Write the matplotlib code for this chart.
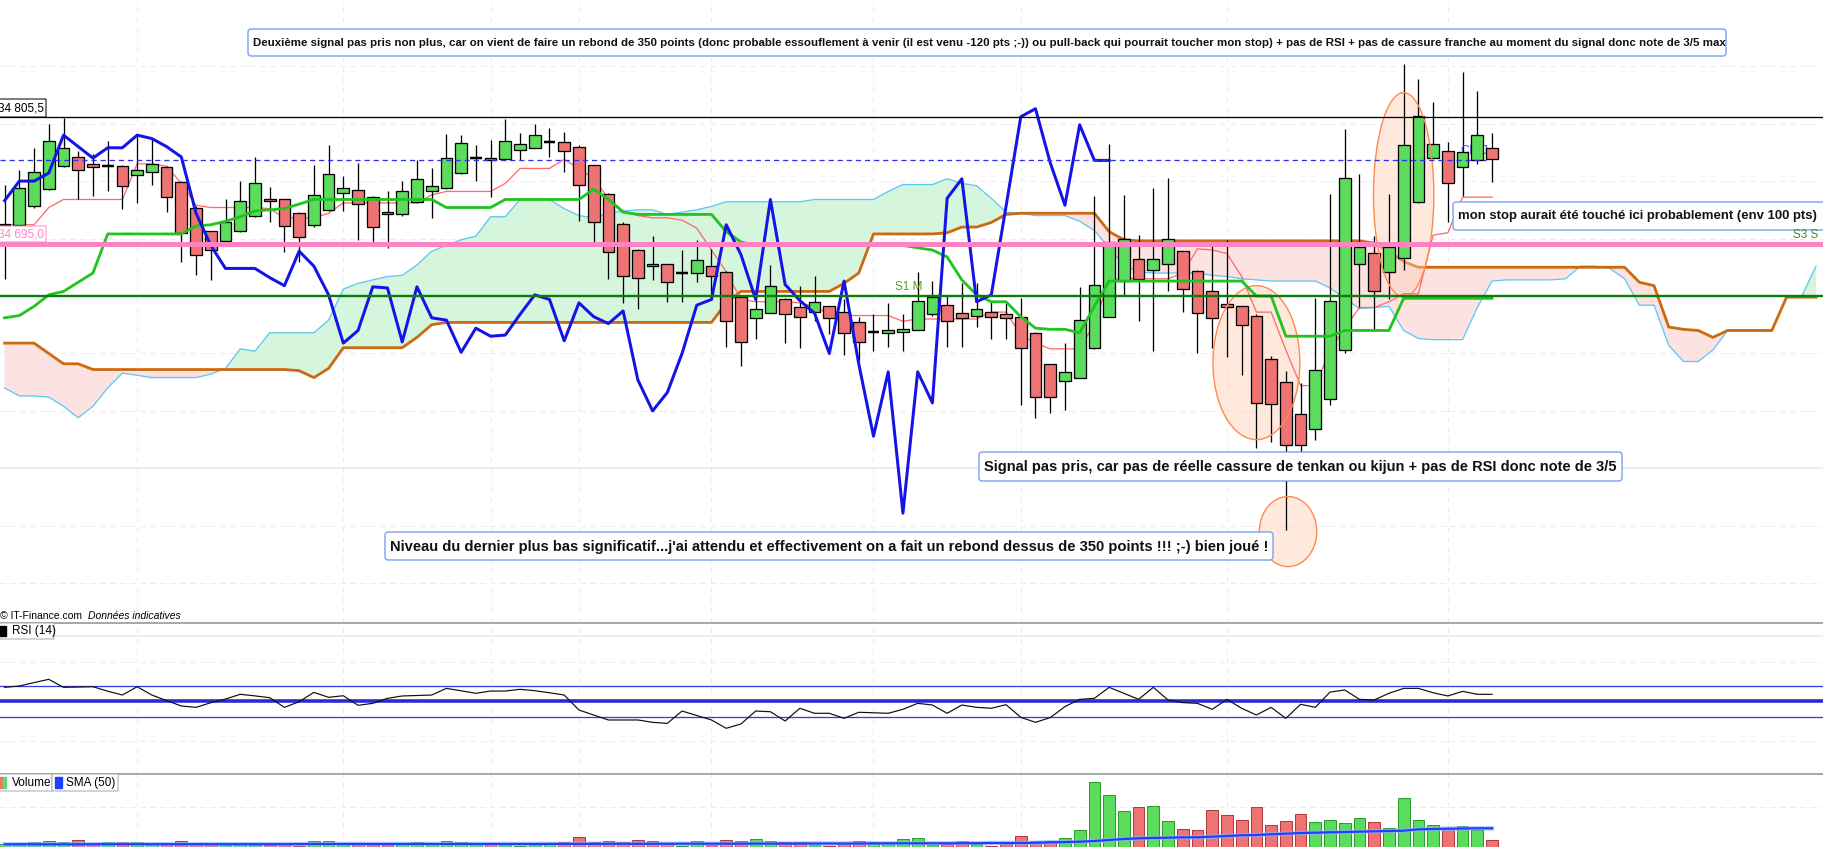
"""Graphique Ichimoku intraday (IT-Finance) avec RSI, volume et annotations."""

import matplotlib
matplotlib.use("Agg")
import matplotlib.pyplot as plt
from matplotlib.patches import Rectangle, Ellipse, FancyBboxPatch
from matplotlib.lines import Line2D
from matplotlib.transforms import IdentityTransform
import numpy as np

W, H, DPI = 1823, 847, 100
PT = 0.72  # 1 px en points à 100 dpi

# --- bougies (une par période) ---
opens = [34712, 34712, 34728, 34743, 34763, 34771, 34765, 34763, 34763, 34755,
         34758, 34762, 34749, 34727, 34707, 34698, 34707, 34720, 34734, 34734,
         34722, 34712, 34725, 34740, 34742, 34736, 34723, 34721, 34732, 34741,
         34744, 34757, 34770, 34770, 34769, 34777, 34779, 34784, 34784, 34780,
         34764, 34739, 34713, 34690, 34678, 34678, 34670, 34670, 34676, 34671,
         34649, 34631, 34635, 34647, 34640, 34636, 34641, 34636, 34627, 34619,
         34618, 34619, 34620, 34634, 34642, 34635, 34633, 34636, 34634, 34632,
         34618, 34591, 34576, 34579, 34605, 34632, 34663, 34682, 34673, 34678,
         34689, 34672, 34654, 34643, 34641, 34633, 34595, 34575, 34547, 34534,
         34560, 34603, 34678, 34687, 34671, 34683, 34732, 34770, 34776, 34762,
         34768, 34779]
highs = [34747, 34760, 34779, 34800, 34805, 34776, 34774, 34785, 34764, 34790,
         34787, 34763, 34750, 34728, 34707, 34734, 34750, 34771, 34745, 34734,
         34723, 34764, 34781, 34754, 34766, 34737, 34741, 34750, 34768, 34761,
         34791, 34790, 34781, 34786, 34804, 34792, 34800, 34796, 34793, 34781,
         34764, 34740, 34714, 34691, 34702, 34678, 34690, 34699, 34691, 34672,
         34650, 34654, 34677, 34648, 34659, 34667, 34641, 34647, 34632, 34634,
         34644, 34634, 34671, 34663, 34650, 34661, 34661, 34645, 34644, 34648,
         34619, 34591, 34609, 34658, 34737, 34782, 34738, 34703, 34744, 34753,
         34689, 34673, 34697, 34699, 34641, 34634, 34598, 34585, 34574, 34648,
         34739, 34795, 34756, 34702, 34739, 34852, 34839, 34819, 34784, 34845,
         34828, 34792]
lows = [34665, 34710, 34727, 34742, 34762, 34734, 34737, 34741, 34726, 34731,
        34747, 34723, 34680, 34668, 34664, 34697, 34706, 34719, 34714, 34688,
        34680, 34710, 34724, 34724, 34699, 34697, 34692, 34720, 34731, 34718,
        34743, 34756, 34750, 34736, 34768, 34768, 34779, 34771, 34758, 34715,
        34697, 34665, 34644, 34639, 34664, 34645, 34645, 34662, 34652, 34606,
        34589, 34613, 34635, 34609, 34605, 34628, 34617, 34599, 34594, 34602,
        34606, 34602, 34620, 34633, 34606, 34606, 34623, 34613, 34613, 34555,
        34544, 34548, 34551, 34579, 34604, 34632, 34650, 34628, 34602, 34654,
        34636, 34600, 34605, 34597, 34581, 34518, 34523, 34446, 34500, 34525,
        34555, 34600, 34640, 34621, 34647, 34673, 34731, 34770, 34714, 34737,
        34765, 34749]
closes = [34713, 34744, 34758, 34785, 34779, 34760, 34762, 34763, 34746, 34760,
          34765, 34736, 34705, 34686, 34690, 34714, 34733, 34748, 34733, 34711,
          34701, 34738, 34756, 34744, 34730, 34710, 34721, 34741, 34752, 34746,
          34770, 34783, 34770, 34768, 34785, 34782, 34790, 34784, 34776, 34747,
          34714, 34688, 34667, 34666, 34676, 34662, 34670, 34681, 34667, 34628,
          34610, 34639, 34659, 34634, 34632, 34645, 34631, 34618, 34610, 34619,
          34620, 34621, 34646, 34649, 34628, 34631, 34639, 34632, 34631, 34605,
          34562, 34562, 34584, 34629, 34660, 34697, 34700, 34665, 34682, 34700,
          34656, 34635, 34631, 34640, 34625, 34557, 34556, 34520, 34520, 34586,
          34646, 34753, 34693, 34654, 34693, 34781, 34807, 34782, 34748, 34775,
          34790, 34769]

# --- Ichimoku ---
tenkan = [34712, 34712, 34712, 34727, 34734, 34734, 34734, 34734, 34734, 34765,
          34765, 34763, 34748, 34729, 34727, 34727, 34727, 34727, 34726, 34718,
          34718, 34718, 34722, 34731, 34731, 34731, 34731, 34731, 34731, 34738,
          34741, 34741, 34741, 34741, 34748, 34761, 34761, 34761, 34769, 34761,
          34752, 34735, 34724, 34720, 34718, 34718, 34716, 34709, 34690, 34671,
          34647, 34645, 34645, 34645, 34644, 34641, 34634, 34633, 34633, 34633,
          34633, 34628, 34630, 34630, 34630, 34630, 34630, 34636, 34636, 34616,
          34609, 34604, 34604, 34604, 34626, 34664, 34665, 34665, 34665, 34665,
          34670, 34691, 34690, 34687, 34667, 34636, 34636, 34603, 34572, 34572,
          34603, 34622, 34640, 34640, 34645, 34652, 34652, 34703, 34705, 34736,
          34736, 34736]
kijun = [34631, 34633, 34641, 34651, 34654, 34662, 34670, 34704, 34704, 34704,
         34704, 34704, 34704, 34711, 34712, 34715, 34719, 34724, 34725, 34726,
         34730, 34734, 34734, 34734, 34734, 34734, 34734, 34734, 34734, 34734,
         34727, 34727, 34727, 34727, 34734, 34734, 34734, 34734, 34734, 34734,
         34743, 34734, 34723, 34721, 34721, 34721, 34721, 34721, 34721, 34706,
         34697, 34694, 34694, 34694, 34694, 34694, 34694, 34694, 34694, 34694,
         34694, 34694, 34692, 34690, 34684, 34664, 34651, 34645, 34645, 34632,
         34622, 34621, 34621, 34618, 34641, 34663, 34663, 34663, 34663, 34663,
         34663, 34663, 34663, 34663, 34663, 34650, 34650, 34615, 34615, 34615,
         34615, 34620, 34620, 34620, 34620, 34648, 34648, 34648, 34648, 34648,
         34648, 34648]
senkou_a = [34570, 34563, 34563, 34562, 34554, 34544, 34554, 34570, 34583, 34581,
            34579, 34579, 34579, 34579, 34582, 34587, 34604, 34602, 34618, 34618,
            34618, 34618, 34629, 34656, 34661, 34664, 34667, 34668, 34677, 34689,
            34694, 34699, 34702, 34719, 34719, 34734, 34734, 34734, 34726, 34720,
            34718, 34722, 34724, 34725, 34725, 34721, 34723, 34725, 34728, 34732,
            34732, 34732, 34732, 34732, 34732, 34734, 34734, 34734, 34734, 34734,
            34741, 34747, 34747, 34747, 34752, 34748, 34746, 34735, 34723, 34722,
            34720, 34720, 34720, 34715, 34707, 34692, 34677, 34671, 34670, 34670,
            34670, 34670, 34668, 34667, 34665, 34664, 34663, 34663, 34663, 34663,
            34657, 34648, 34639, 34640, 34641, 34620, 34613, 34612, 34612, 34612,
            34640, 34663, 34664, 34664, 34664, 34664, 34665, 34676, 34676, 34674,
            34665, 34642, 34642, 34607, 34593, 34593, 34603, 34620, 34620, 34620,
            34620, 34649, 34649, 34676]
senkou_b = [34609, 34609, 34609, 34600, 34591, 34591, 34586, 34586, 34586, 34586,
            34586, 34586, 34586, 34586, 34586, 34586, 34586, 34586, 34586, 34586,
            34585, 34579, 34587, 34605, 34605, 34605, 34605, 34605, 34614, 34625,
            34627, 34627, 34627, 34627, 34627, 34627, 34627, 34627, 34627, 34627,
            34627, 34627, 34627, 34627, 34627, 34627, 34627, 34627, 34627, 34644,
            34654, 34654, 34654, 34654, 34654, 34654, 34654, 34661, 34670, 34704,
            34704, 34704, 34704, 34704, 34705, 34710, 34710, 34714, 34721, 34722,
            34722, 34722, 34722, 34722, 34722, 34706, 34699, 34698, 34698, 34698,
            34698, 34698, 34698, 34698, 34698, 34698, 34698, 34698, 34698, 34698,
            34698, 34698, 34698, 34696, 34689, 34680, 34675, 34675, 34675, 34675,
            34675, 34675, 34675, 34675, 34675, 34675, 34675, 34675, 34675, 34675,
            34675, 34662, 34659, 34623, 34621, 34620, 34614, 34620, 34620, 34620,
            34620, 34649, 34649, 34649]
chikou = [34733, 34750, 34750, 34757, 34790, 34780, 34770, 34779, 34779, 34790,
          34787, 34780, 34771, 34722, 34694, 34674, 34674, 34674, 34666, 34659,
          34689, 34676, 34651, 34609, 34620, 34658, 34657, 34610, 34658, 34631,
          34629, 34601, 34622, 34615, 34616, 34634, 34651, 34647, 34611, 34644,
          34632, 34626, 34637, 34577, 34550, 34566, 34600, 34642, 34647, 34712,
          34686, 34647, 34734, 34660, 34646, 34635, 34600, 34663, 34591, 34528,
          34584, 34461, 34584, 34557, 34735, 34752, 34645, 34651, 34728, 34806,
          34813, 34766, 34729, 34799, 34768, 34768]

# --- RSI (14) ---
rsi = [67.9, 69.6, 74.0, 78.1, 67.9, 68.3, 68.7, 63.0, 58.1, 68.7,
       58.1, 51.0, 44.1, 42.4, 48.3, 53.0, 59.0, 57.0, 54.7, 42.4,
       49.6, 61.5, 55.2, 57.2, 45.0, 47.5, 53.9, 56.9, 57.5, 58.1,
       66.6, 63.5, 60.3, 63.2, 63.2, 65.4, 63.6, 61.0, 58.1, 39.0,
       32.6, 26.3, 26.3, 26.3, 23.3, 22.0, 37.7, 32.0, 26.3, 15.7,
       21.2, 37.7, 36.8, 25.0, 41.2, 34.8, 34.8, 28.4, 36.1, 35.5,
       34.8, 39.9, 47.5, 45.4, 34.8, 45.4, 42.4, 41.2, 45.8, 29.7,
       23.3, 29.3, 43.3, 52.6, 53.9, 67.9, 60.3, 52.6, 67.9, 51.8,
       48.4, 47.5, 39.9, 52.6, 41.2, 32.6, 42.4, 28.4, 46.3, 42.4,
       61.9, 64.5, 52.6, 51.8, 60.3, 66.6, 66.6, 61.0, 56.9, 62.8,
       59.0, 59.0]

# --- volume et SMA (50) ---
volume = [600, 670, 770, 900, 770, 1000, 570, 770, 770, 770,
          570, 570, 900, 670, 570, 500, 570, 500, 500, 570,
          430, 870, 870, 670, 570, 500, 500, 570, 770, 570,
          900, 770, 670, 670, 500, 430, 500, 570, 770, 1270,
          770, 900, 770, 1000, 900, 570, 430, 900, 500, 1000,
          900, 1100, 900, 770, 770, 500, 430, 570, 900, 770,
          770, 1070, 1170, 500, 570, 900, 570, 430, 570, 1400,
          900, 900, 1170, 2000, 6830, 5500, 3900, 4330, 4430, 2900,
          2070, 2000, 3970, 3470, 2970, 4270, 2470, 2900, 3570, 2770,
          3000, 2670, 3170, 2770, 2170, 5170, 3000, 2470, 2130, 2370,
          2000, 1000]
vol_sma = [570, 570, 570, 570, 570, 570, 580, 580, 580, 580,
           580, 580, 580, 580, 580, 580, 580, 580, 580, 580,
           590, 600, 600, 600, 600, 600, 600, 600, 600, 600,
           600, 600, 600, 600, 600, 600, 600, 610, 610, 610,
           610, 620, 620, 620, 620, 620, 630, 630, 630, 630,
           630, 640, 640, 640, 640, 650, 650, 650, 650, 660,
           660, 670, 670, 670, 670, 680, 680, 700, 700, 700,
           720, 770, 790, 830, 900, 1000, 1100, 1170, 1200, 1230,
           1270, 1270, 1330, 1400, 1470, 1500, 1570, 1630, 1700, 1730,
           1770, 1800, 1830, 1870, 1900, 1930, 2070, 2100, 2130, 2150,
           2170, 2170]

# niveaux horizontaux
level_high = 34805.5      # ligne noire
level_pink = 34695.0      # ligne rose épaisse
level_s1 = 34650.0        # S1 M (vert foncé)
level_close = 34768.4     # clôture (pointillés bleus)
grid_bars = [9, 23, 33, 39, 48, 59, 69, 83, 98]
grid_prices = [34850, 34800, 34750, 34700, 34650, 34600, 34550, 34450, 34400]

# ellipses d'annotation : (centre barre, centre prix, largeur barres, hauteur points)
ellipses = [(85.0, 34592, 5.9, 134), (95.0, 34738, 4.1, 178), (87.15, 34445, 3.9, 61)]

notes = [
    ("Deuxième signal pas pris non plus, car on vient de faire un rebond de 350 points "
     "(donc probable essouflement à venir (il est venu -120 pts ;-)) ou pull-back qui pourrait "
     "toucher mon stop) + pas de RSI + pas de cassure franche au moment du signal donc note de 3/5 max",
     (248, 29, 1726, 56), 1468),
    ("mon stop aurait été touché ici probablement (env 100 pts)", (1453, 202, 1840, 230), 361),
    ("Signal pas pris, car pas de réelle cassure de tenkan ou kijun + pas de RSI donc note de 3/5",
     (979, 452, 1622, 481), 632),
    ("Niveau du dernier plus bas significatif...j'ai attendu et effectivement on a fait un rebond "
     "dessus de 350 points !!! ;-) bien joué !", (385, 532, 1273, 560), 877),
]

GREEN, RED = "#5cdc5c", "#ee7474"
GRID = "#ebebeb"

# échelle horizontale : 14.73 px par barre, barre 0 à x = 4.6 px
STEP = 14.727
X0 = -4.6 / STEP
X1 = X0 + W / STEP
P_TOP, P_BOT = 34907.6, 34366.3

fig = plt.figure(figsize=(W / DPI, H / DPI), dpi=DPI)
fig.patch.set_facecolor("white")


def frac(y_px):
    return 1 - y_px / H


ax = fig.add_axes([0, frac(622), 1, 622 / H])
ax_rsi = fig.add_axes([0, frac(773), 1, (773 - 622) / H])
ax_vol = fig.add_axes([0, 0, 1, (H - 773) / H])
for a in (ax, ax_rsi, ax_vol):
    a.set_xlim(X0, X1)
    a.set_axis_off()
    for g in grid_bars:
        a.axvline(g, color=GRID, lw=1 * PT, ls=(0, (5, 5)), zorder=0)

ax.set_ylim(P_BOT, P_TOP)
for p in grid_prices:
    ax.axhline(p, color=GRID, lw=1 * PT, ls=(0, (5, 5)), zorder=0)
ax.axhline(34500, color="#e6e6e6", lw=1.5 * PT, zorder=0)

# nuage
xc = np.arange(len(senkou_a))
sa, sb = np.array(senkou_a, float), np.array(senkou_b, float)
ax.fill_between(xc, sa, sb, where=sa >= sb, interpolate=True, color="#d6f5dd", lw=0, zorder=1)
ax.fill_between(xc, sa, sb, where=sa < sb, interpolate=True, color="#fde2e2", lw=0, zorder=1)
ax.plot(xc, sa, color="#5cc8f5", lw=1.3 * PT, zorder=2)
ax.plot(xc, sb, color="#cc6a12", lw=2.8 * PT, zorder=2.2)

for cx, cy, ew, eh in ellipses:
    ax.add_patch(Ellipse((cx, cy), ew, eh, facecolor="#ffcfb4", alpha=0.45, lw=0, zorder=2.6))

xb = np.arange(len(closes))
ax.plot(xb, tenkan, color="#ff6b6b", lw=1.3 * PT, zorder=2.7)

for i, (o, h, l, c) in enumerate(zip(opens, highs, lows, closes)):
    ax.vlines(i, l, h, color="black", lw=1.3 * PT, zorder=3)
    if abs(c - o) < 0.6:
        ax.hlines(o, i - 0.4, i + 0.4, color="black", lw=2.5 * PT, zorder=3.2)
    else:
        ax.add_patch(Rectangle((i - 0.4, min(o, c)), 0.8, abs(c - o),
                               facecolor=GREEN if c > o else RED,
                               edgecolor="black", lw=1.3 * PT, zorder=3.1))

for cx, cy, ew, eh in ellipses:
    ax.add_patch(Ellipse((cx, cy), ew, eh, facecolor="none", edgecolor="#ff8a50",
                         lw=1.4 * PT, zorder=3.5))

ax.plot(xb, kijun, color="#1fc41f", lw=2.8 * PT, zorder=4)
ax.plot(np.arange(len(chikou)), chikou, color="#1414e8", lw=3 * PT, zorder=5)

ax.axhline(level_high, color="black", lw=1.3 * PT, zorder=6)
ax.axhline(level_s1, color="#0a7d0a", lw=2.4 * PT, zorder=6)
ax.axhline(level_pink, color="#ff82c2", lw=5 * PT, zorder=6)
ax.hlines(level_close, X0, 100.6, color="#2f2fee", lw=1.3 * PT, ls=(0, (4, 3)), zorder=6)

# RSI
ax_rsi.set_ylim(-41.3, 151.2)
for v in (100, 0):
    ax_rsi.axhline(v, color=GRID, lw=1 * PT, ls=(0, (5, 5)), zorder=0)
ax_rsi.axhline(133.3, color="#e6e6e6", lw=1.5 * PT, zorder=0)
ax_rsi.axhline(50, color="#2b2bd6", lw=3.6 * PT, zorder=1)
for v in (70, 30):
    ax_rsi.axhline(v, color="#3a3ae0", lw=1.3 * PT, zorder=1)
ax_rsi.plot(xb, rsi, color="#111111", lw=1.2 * PT, zorder=2)

# volume
ax_vol.set_ylim(300, 7700)
ax_vol.axhline(4300, color=GRID, lw=1 * PT, ls=(0, (5, 5)), zorder=0)
vcol = [GREEN if c >= o else RED for o, c in zip(opens, closes)]
vedge = ["#2a9d2a" if c >= o else "#b23a3a" for o, c in zip(opens, closes)]
ax_vol.bar(xb, volume, width=0.8, color=vcol, edgecolor=vedge, lw=1 * PT, zorder=1)
ax_vol.plot(xb, vol_sma, color="#8fb0ff", lw=4.5 * PT, alpha=0.7, zorder=2)
ax_vol.plot(xb, vol_sma, color="#1f3fff", lw=2.2 * PT, zorder=3)

# séparateurs de panneaux
for yy in (622.5, 773.5):
    fig.add_artist(Line2D([0, W], [H - yy, H - yy], color="#9aa2a2", lw=1.8 * PT,
                          transform=IdentityTransform()))


def box(x0, y0, x1, y1, edge, lw=1.3 * PT, face="white", r=3):
    p = FancyBboxPatch((x0, H - y1), x1 - x0, y1 - y0,
                       boxstyle=f"round,pad=0,rounding_size={r}",
                       transform=IdentityTransform(), facecolor=face,
                       edgecolor=edge, lw=lw, zorder=10)
    fig.add_artist(p)


def txt(x, y, s, **kw):
    kw.setdefault("va", "center")
    kw.setdefault("zorder", 11)
    return fig.text(x / W, frac(y), s, **kw)


fitted = []
for s, (x0, y0, x1, y1), tw in notes:
    box(x0, y0, x1, y1, "#6e9cf0")
    t = txt(x0 + 5, (y0 + y1) / 2 + 0.5, s, fontsize=9, fontweight="bold",
            family="Liberation Sans", color="#111111")
    fitted.append((t, tw))
fig.canvas.draw()
rend = fig.canvas.get_renderer()
for t, tw in fitted:
    t.set_fontsize(9 * tw / t.get_window_extent(rend).width)

# étiquettes de niveaux
box(-3, 99, 46, 117, "black", lw=1 * PT, r=0)
txt(44, 108.5, "34 805,5", ha="right", fontsize=8.5, family="Liberation Sans")
box(-3, 226, 46, 242, "#ff88c4", lw=1 * PT, r=0)
txt(44, 234.5, "34 695,0", ha="right", fontsize=8.5, family="Liberation Sans", color="#ff88c4")
ax.text(61.4, level_s1 + 3, "S1 M", fontsize=8.5, family="Liberation Sans",
        color="#5e9a22", ha="center", va="bottom", zorder=7)
txt(1818, 235, "S3 S", ha="right", fontsize=8.5, family="Liberation Sans", color="#3f8f1f")
ax.text(99.8, level_close + 3, "Clo J", fontsize=8.5, family="Liberation Sans",
        color="#4646ff", ha="center", va="bottom", zorder=3.05)

txt(0, 616, "© IT-Finance.com", fontsize=7.5, family="Liberation Sans")
txt(88, 616, "Données indicatives", fontsize=7.5, family="Liberation Sans", style="italic")

# légendes des panneaux
box(-3, 623, 54, 639, "#a4acb4", lw=1 * PT, r=0)
fig.add_artist(Rectangle((0, H - 636), 6, 10, color="black", transform=IdentityTransform(), zorder=11))
txt(12, 631, "RSI (14)", fontsize=8.5, family="Liberation Sans")
box(-3, 774, 52, 791, "#a4acb4", lw=1 * PT, r=0)
box(52, 774, 118, 791, "#a4acb4", lw=1 * PT, r=0)
fig.add_artist(Rectangle((0, H - 788), 3, 11, color=RED, transform=IdentityTransform(), zorder=11))
fig.add_artist(Rectangle((3, H - 788), 3, 11, color=GREEN, transform=IdentityTransform(), zorder=11))
txt(12, 782.5, "Volume", fontsize=8.5, family="Liberation Sans")
fig.add_artist(Rectangle((55, H - 788), 7, 11, color="#1f3fff", transform=IdentityTransform(), zorder=11))
txt(66, 782.5, "SMA (50)", fontsize=8.5, family="Liberation Sans")

fig.savefig("out.png", dpi=DPI)
